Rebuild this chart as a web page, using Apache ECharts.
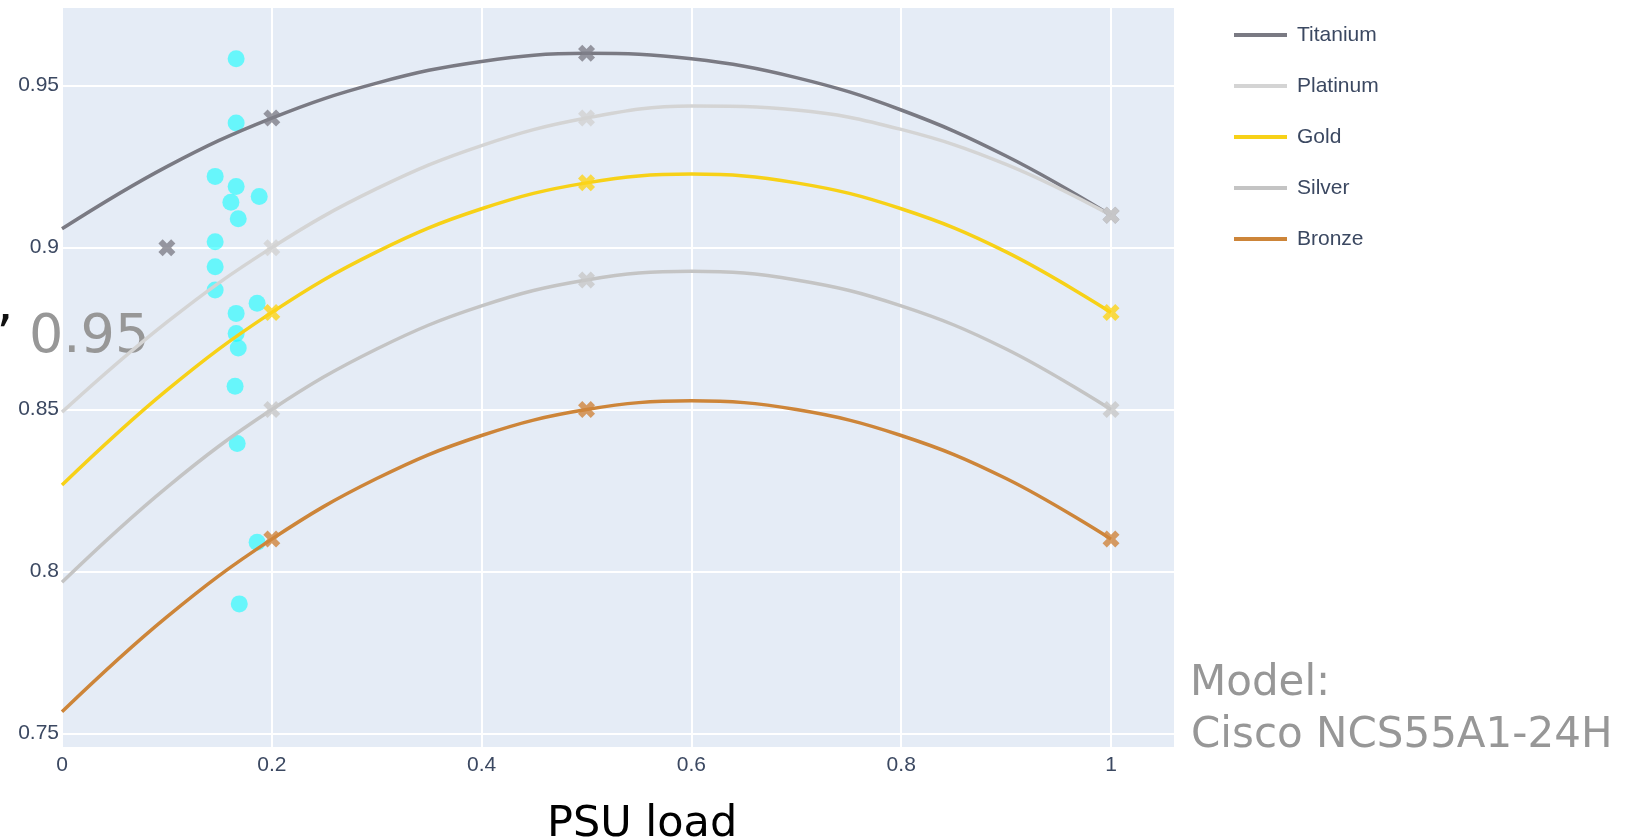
<!DOCTYPE html>
<html>
<head>
<meta charset="utf-8">
<script src="https://cdn.jsdelivr.net/npm/echarts@6/dist/echarts.min.js"></script>
<style>
html,body{margin:0;padding:0;background:#fff;}
#chart{width:1639px;height:839px;}
</style>
</head>
<body>
<div id="chart"></div>
<script>
// ---- data ----
const loadGrid = [0, 0.1, 0.2, 0.3, 0.4, 0.5, 0.6, 0.7, 0.8, 0.9, 1.0];
const titaniumCurve = [0.9058, 0.9250, 0.9400, 0.9508, 0.9575, 0.9600, 0.9583, 0.9525, 0.9425, 0.9283, 0.9100];
const platinumCurve = [0.8492, 0.8770, 0.9000, 0.9182, 0.9315, 0.9400, 0.9437, 0.9425, 0.9365, 0.9257, 0.9100];
const goldCurve     = [0.8267, 0.8560, 0.8800, 0.8987, 0.9120, 0.9200, 0.9227, 0.9200, 0.9120, 0.8987, 0.8800];
const silverCurve   = [0.7967, 0.8260, 0.8500, 0.8687, 0.8820, 0.8900, 0.8927, 0.8900, 0.8820, 0.8687, 0.8500];
const bronzeCurve   = [0.7567, 0.7860, 0.8100, 0.8287, 0.8420, 0.8500, 0.8527, 0.8500, 0.8420, 0.8287, 0.8100];

const titaniumLoad = [0.1, 0.2, 0.5, 1.0];
const titaniumEff  = [0.90, 0.94, 0.96, 0.91];
const platinumLoad = [0.2, 0.5, 1.0];
const platinumEff  = [0.90, 0.94, 0.91];
const goldLoad = [0.2, 0.5, 1.0];
const goldEff  = [0.88, 0.92, 0.88];
const silverLoad = [0.2, 0.5, 1.0];
const silverEff  = [0.85, 0.89, 0.85];
const bronzeLoad = [0.2, 0.5, 1.0];
const bronzeEff  = [0.81, 0.85, 0.81];

const measuredLoad = [0.166, 0.166, 0.146, 0.166, 0.161, 0.188, 0.168, 0.146, 0.146, 0.146, 0.186, 0.166, 0.166, 0.168, 0.165, 0.167, 0.186, 0.169];
const measuredEff  = [0.9583, 0.9385, 0.9220, 0.9189, 0.9140, 0.9158, 0.9089, 0.9018, 0.8941, 0.8869, 0.8828, 0.8797, 0.8735, 0.8690, 0.8572, 0.8395, 0.8090, 0.7900];

const levelNames = ['Titanium', 'Platinum', 'Gold', 'Silver', 'Bronze'];
const xTicks = [0, 0.2, 0.4, 0.6, 0.8, 1];
const yTicks = [0.75, 0.8, 0.85, 0.9, 0.95];

// ---- build ----
const curves = [titaniumCurve, platinumCurve, goldCurve, silverCurve, bronzeCurve];
const ptsX = [titaniumLoad, platinumLoad, goldLoad, silverLoad, bronzeLoad];
const ptsY = [titaniumEff, platinumEff, goldEff, silverEff, bronzeEff];
const lineColors = ['#7a7a83', '#d4d4d4', '#f7d117', '#c4c4c4', '#cd8539'];
const markColors = ['#80808a', '#d2d2d2', '#fcd519', '#c8c8c8', '#d0843c'];
const xSym = 'path://M2,3 L3,4 L4,3 L3,2 L4,1 L3,0 L2,1 L1,0 L0,1 L1,2 L0,3 L1,4 Z';
const zip = (a, b) => a.map((v, i) => [v, b[i]]);

const series = [];
series.push({
  name: 'measured', type: 'scatter', z: 1,
  data: zip(measuredLoad, measuredEff),
  symbol: 'circle', symbolSize: 17,
  itemStyle: { color: '#00ffff', opacity: 0.55 },
  silent: true
});
levelNames.forEach((n, i) => {
  series.push({
    name: n, type: 'line', z: 3,
    data: zip(loadGrid, curves[i]),
    smooth: 0.4, showSymbol: false, symbol: 'none',
    color: lineColors[i],
    lineStyle: { width: 3.5, color: lineColors[i] },
    silent: true
  });
});
levelNames.forEach((n, i) => {
  series.push({
    name: n + ' points', type: 'scatter', z: 4,
    data: zip(ptsX[i], ptsY[i]),
    symbol: xSym, symbolSize: 17,
    itemStyle: { color: markColors[i] },
    silent: true
  });
});

const chart = echarts.init(document.getElementById('chart'), null, { renderer: 'canvas' });
const tickFont = { fontFamily: 'Liberation Sans', fontSize: 21, color: '#3b4861' };
chart.setOption({
  animation: false,
  backgroundColor: '#ffffff',
  grid: { left: 62, right: 464, top: 7, bottom: 91, show: true, backgroundColor: '#E5ECF6', borderWidth: 0, containLabel: false },
  xAxis: {
    type: 'value', min: 0, max: 1.061, minInterval: 0.2, maxInterval: 0.2,
    axisLine: { show: false }, axisTick: { show: false },
    splitLine: { show: true, lineStyle: { color: '#ffffff', width: 2 } },
    axisLabel: Object.assign({ margin: 7, showMaxLabel: false, showMinLabel: true,
      formatter: v => (xTicks.some(t => Math.abs(t - v) < 1e-6) ? String(+v.toFixed(2)) : '') }, tickFont)
  },
  yAxis: {
    type: 'value', min: 0.7455, max: 0.9743, minInterval: 0.05, maxInterval: 0.05,
    axisLine: { show: false }, axisTick: { show: false },
    splitLine: { show: true, lineStyle: { color: '#ffffff', width: 2 } },
    axisLabel: Object.assign({ margin: 3, showMinLabel: false, showMaxLabel: false,
      formatter: v => (yTicks.some(t => Math.abs(t - v) < 1e-6) ? String(+v.toFixed(2)) : '') }, tickFont)
  },
  legend: {
    orient: 'vertical', left: 1229, top: 18,
    data: levelNames.map(n => ({ name: n, icon: 'rect' })),
    itemWidth: 53, itemHeight: 4, itemGap: 27,
    textStyle: { fontFamily: 'Liberation Sans', fontSize: 21, color: '#3b4861', lineHeight: 24, padding: [0, 0, 0, 5] },
    selectedMode: false
  },
  graphic: [
    { type: 'text', x: 547, y: 825, silent: true,
      style: { text: 'PSU load', fontFamily: 'DejaVu Sans', fontSize: 43, fill: '#000000', textVerticalAlign: 'middle', textAlign: 'left' } },
    { type: 'text', x: 1190, y: 684, silent: true,
      style: { text: 'Model:', fontFamily: 'DejaVu Sans', fontSize: 42, fill: '#979797', textVerticalAlign: 'middle', textAlign: 'left' } },
    { type: 'text', x: 1191, y: 736, silent: true,
      style: { text: 'Cisco NCS55A1-24H', fontFamily: 'DejaVu Sans', fontSize: 42, fill: '#979797', textVerticalAlign: 'middle', textAlign: 'left' } },
    { type: 'text', x: 29, y: 338, silent: true,
      style: { text: '0.95', fontFamily: 'DejaVu Sans', fontSize: 54, fill: '#979797', textVerticalAlign: 'middle', textAlign: 'left' } },
    { type: 'text', x: -4, y: 339, silent: true,
      style: { text: '\u2019', fontFamily: 'DejaVu Sans', fontSize: 54, fill: '#111111', textVerticalAlign: 'middle', textAlign: 'left' } }
  ],
  series: series
});
</script>
</body>
</html>
